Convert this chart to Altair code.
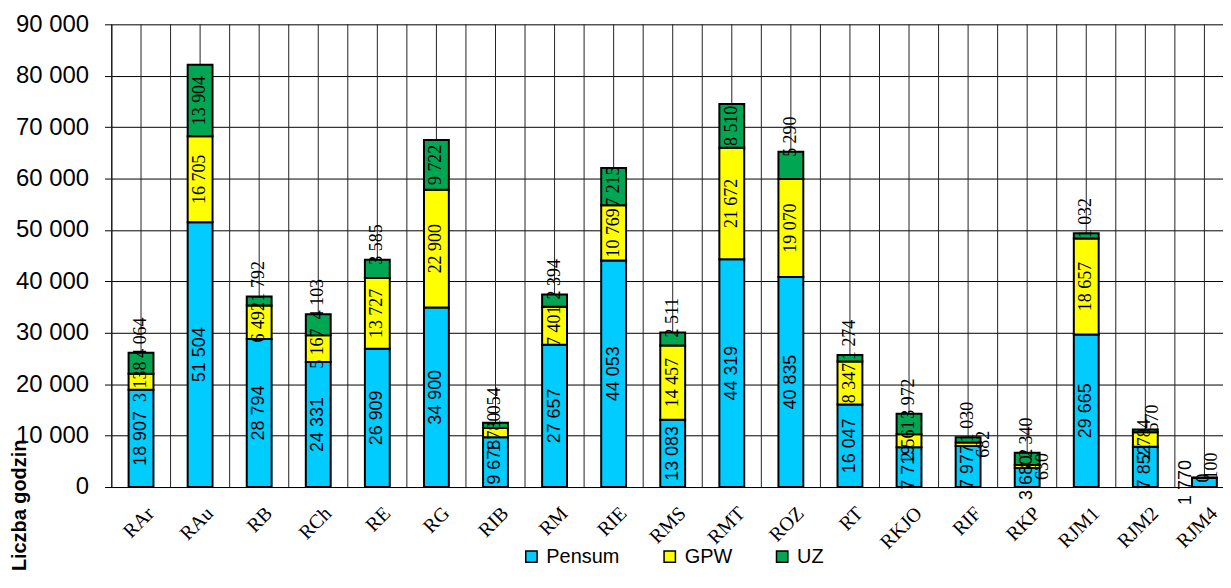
import altair as alt
import pandas as pd

categories = ["RAr", "RAu", "RB", "RCh", "RE", "RG", "RIB", "RM", "RIE", "RMS",
              "RMT", "ROZ", "RT", "RKJO", "RIF", "RKP", "RJM1", "RJM2", "RJM4"]
pensum = [18907, 51504, 28794, 24331, 26909, 34900, 9678, 27657, 44053, 13083,
          44319, 40835, 16047, 7719, 7977, 3680, 29665, 7852, 1770]
gpw = [3138, 16705, 6492, 5167, 13727, 22900, 1780, 7401, 10769, 14457,
       21672, 19070, 8347, 2561, 682, 630, 18657, 2784, 0]
uz = [4064, 13904, 1792, 4103, 3585, 9722, 1054, 2394, 7215, 2511,
      8510, 5290, 1274, 3972, 1030, 2340, 1032, 570, 100]

series_names = ["Pensum", "GPW", "UZ"]
series_colors = ["#00CCFF", "#FFFF00", "#00A651"]
y_ticks = [0, 10000, 20000, 30000, 40000, 50000, 60000, 70000, 80000, 90000]


def fmt(v):
    return f"{v:,}".replace(",", " ")


rows = []
for i, c in enumerate(categories):
    base = 0
    for s, vals in zip(series_names, [pensum, gpw, uz]):
        v = vals[i]
        rows.append(dict(cat=c, series=s, v=v, y0=base, y1=base + v,
                         mid=base + v / 2, label=fmt(v)))
        base += v
df = pd.DataFrame(rows)
cats_df = pd.DataFrame({"cat": categories})

PLOT_H = 465
SANS = "Liberation Sans"
SERIF = "Liberation Serif"

xscale = alt.Scale(range=[0, 1128], paddingInner=0, paddingOuter=0)
yscale = alt.Scale(domain=[0, 90000], nice=False)

x_axis = alt.Axis(title=None, labelAngle=-45, labelFont=SERIF, labelFontSize=20,
                  labelColor="black", ticks=False, labelPadding=16, labelOffset=3,
                  grid=False, domainColor="black", domainWidth=1)

y_axis = alt.Axis(values=y_ticks,
                  labelExpr="replace(format(datum.value, ',d'), ',', ' ')",
                  labelFont=SANS, labelFontSize=24, labelColor="black",
                  tickColor="black", tickSize=7, labelPadding=16,
                  domainColor="black", grid=True, gridColor="black", gridWidth=1,
                  gridOpacity=1,
                  title="Liczba godzin", titleFont=SANS, titleFontSize=20,
                  titleFontWeight="bold", titleColor="black",
                  titleX=-86, titleY=549, titleAngle=270, titleAlign="left",
                  titleBaseline="alphabetic")


def X(**kw):
    return alt.X("cat:N", sort=categories, scale=xscale, axis=x_axis, **kw)


def Y(field):
    return alt.Y(f"{field}:Q", scale=yscale, axis=y_axis)


# vertical grid lines: at band boundaries and band centres
rules_edge = alt.Chart(cats_df).mark_rule(color="#222222", strokeWidth=1).encode(
    x=X(bandPosition=0), y=alt.value(0), y2=alt.value(PLOT_H))
rules_mid = alt.Chart(cats_df).mark_rule(color="#222222", strokeWidth=1).encode(
    x=X(), y=alt.value(0), y2=alt.value(PLOT_H))

bars = alt.Chart(df).mark_bar(size=25, stroke="black", strokeWidth=2).encode(
    x=X(),
    y=Y("y0"),
    y2="y1:Q",
    color=alt.Color("series:N", sort=series_names,
                    scale=alt.Scale(domain=series_names, range=series_colors),
                    legend=alt.Legend(title=None, orient="none", legendX=412, legendY=525,
                                      direction="horizontal", symbolType="square",
                                      symbolSize=130, symbolStrokeColor="black",
                                      symbolStrokeWidth=1.5, symbolOpacity=1,
                                      labelFont=SANS, labelFontSize=20, labelColor="black",
                                      columnPadding=40, labelOffset=5, padding=0)),
)


def txt(data_filter, yfield, font, size, align="center", baseline="middle", dx=0, dy=0):
    return alt.Chart(df).transform_filter(data_filter).mark_text(
        angle=270, font=font, fontSize=size, color="black", align=align,
        baseline=baseline, dx=dx, dy=dy).encode(
        x=X(), y=Y(yfield), text="label:N")


t_pen = txt("datum.series == 'Pensum' && datum.v >= 2000", "mid", SANS, 18)
t_pen_small = txt("datum.series == 'Pensum' && datum.v < 2000", "mid", SANS, 18, dy=-18)
t_gpw = txt("datum.series == 'GPW' && (datum.v >= 1000 || datum.v == 0)", "mid", SERIF, 18)
t_gpw_tiny = txt("datum.series == 'GPW' && datum.v > 0 && datum.v < 1000", "mid", SERIF, 18, dy=16)
t_uz_big = txt("datum.series == 'UZ' && datum.v >= 7000", "mid", SERIF, 18)
t_uz_small = txt("datum.series == 'UZ' && datum.v < 7000 && datum.v >= 1000", "y1", SERIF, 18,
                 align="left", dx=-5)
t_uz_tiny = txt("datum.series == 'UZ' && datum.v < 1000", "y1", SERIF, 18,
                align="left", dx=-2, dy=8)

chart = alt.layer(rules_edge, rules_mid, bars, t_pen, t_pen_small, t_gpw, t_gpw_tiny,
                  t_uz_big, t_uz_small, t_uz_tiny).properties(
    width=1117, height=PLOT_H,
    autosize=alt.AutoSizeParams(type="none"),
    padding={"left": 104, "top": 15, "right": 0, "bottom": 86},
    background="white",
).configure_view(stroke=None)

chart.save("out.html", embed_options={"renderer": "svg", "actions": False})
